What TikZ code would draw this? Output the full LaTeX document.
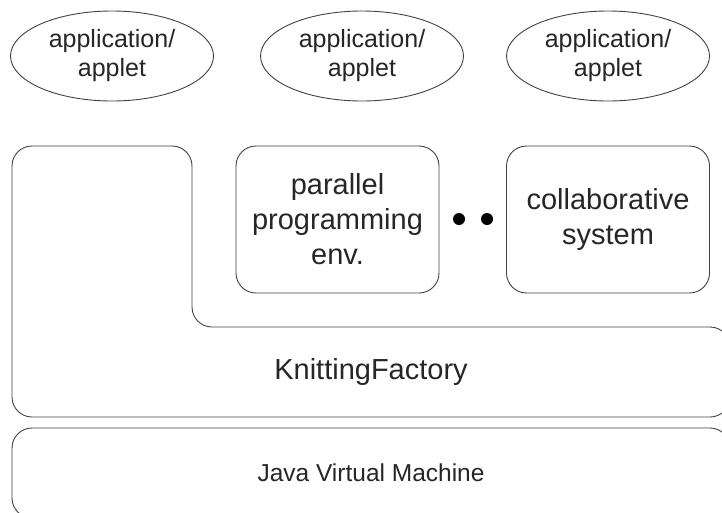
\documentclass[tikz,border=0pt]{standalone}
\usepackage{fontspec}
\setmainfont{Liberation Sans}
\usepackage{tikz}
\usepackage{xcolor}
\usetikzlibrary{shapes.geometric}

\begin{document}
\begin{tikzpicture}[x=1pt,y=-1pt,
  line/.style={draw=black!75,line width=0.9pt},
  app/.style={line,ellipse,minimum width=203pt,minimum height=90pt,inner sep=0pt,
    align=center,text=black!85,font=\fontsize{25}{29}\selectfont},
  tool/.style={line,rounded corners=20pt,minimum width=203pt,minimum height=147pt,
    inner sep=0pt,align=center,text=black!85,font=\fontsize{29}{35}\selectfont},
  dot/.style={circle,fill=black,inner sep=0pt,minimum size=12pt}]
\useasboundingbox (0,0) rectangle (722,512);
\clip (0,0) rectangle (722,512);
\node[app] (app1) at (112,56) {application/\\applet};
\node[app] (app2) at (362,56) {application/\\applet};
\node[app] (app3) at (608,56) {application/\\applet};
\node[tool] (par) at (337.5,219.5) {parallel\\programming\\env.};
\node[tool] (col) at (608,219.5) {collaborative\\system};
\node[dot] (dot1) at (459,219) {};
\node[dot] (dot2) at (487,219) {};
\draw[line,rounded corners=20pt] (12,300) -- (12,146) -- (192,146) -- (192,327)
  -- (730,327) -- (730,417) -- (12,417) -- cycle;
\node[text=black!85,font=\fontsize{29}{35}\selectfont] (kf) at (371,372) {KnittingFactory};
\node[line,rounded corners=20pt,minimum width=718pt,minimum height=90pt,inner sep=0pt,
  text=black!85,font=\fontsize{24.5}{29}\selectfont] (jvm) at (371,473) {Java Virtual Machine};
\end{tikzpicture}
\end{document}
